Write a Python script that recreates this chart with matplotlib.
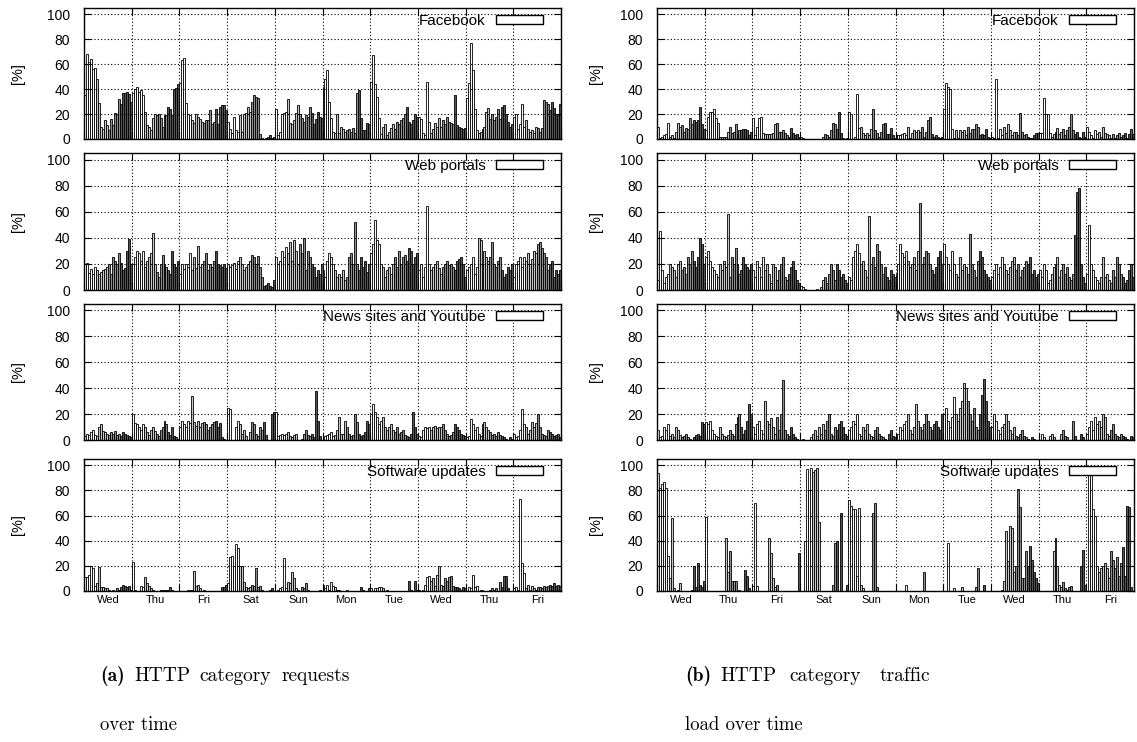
import matplotlib
matplotlib.use("Agg")
import matplotlib.pyplot as plt
from matplotlib.patches import Patch
import numpy as np

# hourly shares [%], 10 days x 24 hours, starting Wednesday 00:00
DAYS = ["Wed", "Thu", "Fri", "Sat", "Sun", "Mon", "Tue", "Wed", "Thu", "Fri"]
CATEGORIES = ["Facebook", "Web portals", "News sites and Youtube", "Software updates"]

fb_requests = [
    35, 68, 62, 64, 56, 57, 48, 29, 10, 8, 15, 11, 7, 16, 11, 21, 20, 32, 28, 37, 37, 38, 36, 30,
    37, 40, 42, 38, 39, 35, 22, 11, 10, 7, 17, 20, 19, 20, 17, 10, 19, 19, 26, 24, 19, 40, 41, 44,
    45, 63, 65, 29, 20, 19, 15, 13, 20, 18, 16, 14, 13, 15, 15, 23, 12, 14, 24, 12, 26, 27, 27, 23,
    14, 8, 5, 18, 7, 6, 19, 6, 20, 21, 26, 22, 30, 35, 34, 33, 4, 1, 0, 1, 2, 3, 1, 2,
    24, 3, 6, 20, 21, 22, 32, 13, 12, 15, 21, 27, 20, 17, 14, 19, 18, 26, 21, 12, 16, 22, 18, 17,
    42, 48, 55, 30, 17, 6, 5, 20, 5, 10, 8, 6, 7, 8, 6, 9, 5, 37, 39, 17, 7, 7, 13, 12,
    46, 67, 44, 34, 17, 4, 10, 12, 3, 6, 9, 12, 8, 14, 12, 15, 17, 20, 26, 14, 12, 15, 20, 18,
    18, 16, 5, 3, 46, 14, 5, 8, 13, 10, 17, 10, 15, 12, 18, 14, 13, 12, 35, 11, 10, 9, 8, 9,
    33, 45, 77, 55, 24, 7, 5, 6, 8, 10, 22, 25, 16, 20, 15, 18, 24, 16, 26, 27, 20, 14, 10, 12,
    18, 20, 8, 12, 28, 10, 15, 8, 6, 7, 5, 10, 9, 6, 9, 31, 30, 28, 23, 30, 25, 20, 19, 28,
]
web_requests = [
    20, 21, 13, 16, 12, 18, 15, 12, 14, 15, 16, 18, 20, 12, 25, 22, 20, 28, 21, 15, 17, 30, 39, 20,
    20, 25, 30, 28, 22, 30, 18, 22, 25, 28, 44, 20, 14, 10, 20, 27, 20, 18, 15, 12, 30, 20, 18, 22,
    12, 20, 16, 20, 18, 28, 15, 25, 17, 34, 18, 20, 22, 28, 15, 20, 18, 22, 30, 20, 19, 18, 20, 17,
    20, 18, 19, 21, 16, 22, 25, 20, 15, 18, 20, 22, 27, 25, 20, 26, 18, 10, 3, 4, 5, 3, 2, 8,
    25, 20, 22, 30, 25, 33, 28, 37, 22, 38, 30, 20, 35, 28, 40, 15, 30, 25, 20, 18, 10, 15, 12, 20,
    15, 10, 22, 28, 25, 20, 15, 10, 12, 10, 15, 8, 10, 25, 28, 20, 52, 20, 15, 25, 18, 22, 14, 20,
    28, 35, 54, 38, 35, 20, 18, 10, 15, 18, 12, 20, 25, 18, 30, 20, 25, 27, 22, 32, 30, 20, 25, 28,
    15, 20, 10, 18, 64, 20, 15, 18, 20, 22, 17, 12, 18, 20, 22, 19, 20, 18, 15, 22, 24, 25, 20, 10,
    15, 18, 20, 25, 12, 18, 40, 38, 20, 30, 25, 22, 25, 37, 20, 18, 22, 25, 15, 10, 12, 18, 15, 20,
    10, 20, 22, 25, 18, 25, 22, 28, 20, 24, 30, 28, 35, 37, 32, 28, 25, 15, 20, 22, 10, 15, 12, 15,
]
news_requests = [
    3, 5, 4, 6, 8, 4, 3, 10, 12, 7, 6, 5, 4, 6, 5, 7, 4, 5, 3, 6, 5, 4, 3, 2,
    20, 13, 12, 10, 8, 12, 10, 6, 4, 8, 10, 7, 5, 3, 8, 10, 15, 12, 6, 4, 10, 3, 2, 1,
    10, 15, 12, 10, 15, 13, 34, 14, 11, 15, 10, 13, 14, 12, 8, 10, 12, 14, 15, 10, 13, 2, 1, 0,
    25, 24, 0, 0, 10, 15, 12, 5, 8, 3, 0, 6, 14, 12, 5, 3, 10, 8, 14, 4, 0, 0, 20, 22,
    22, 3, 4, 5, 4, 5, 6, 3, 2, 4, 5, 0, 0, 1, 5, 8, 4, 3, 5, 2, 38, 15, 3, 0,
    0, 3, 4, 5, 6, 3, 4, 8, 18, 5, 5, 15, 10, 5, 3, 4, 20, 14, 5, 3, 4, 6, 15, 12,
    20, 28, 22, 18, 12, 15, 18, 10, 8, 10, 12, 8, 6, 10, 5, 6, 8, 4, 3, 2, 5, 22, 10, 5,
    3, 2, 8, 10, 9, 10, 8, 10, 11, 9, 10, 10, 12, 8, 5, 3, 4, 6, 12, 10, 8, 5, 4, 3,
    2, 3, 16, 12, 8, 10, 5, 3, 12, 14, 10, 8, 6, 4, 5, 3, 6, 4, 3, 2, 1, 0, 2, 1,
    5, 2, 3, 8, 24, 12, 10, 5, 8, 14, 10, 13, 20, 10, 5, 4, 3, 8, 6, 5, 3, 4, 5, 2,
]
sw_requests = [
    11, 11, 13, 20, 18, 4, 6, 19, 3, 3, 2, 2, 1, 0, 1, 0, 2, 1, 3, 5, 4, 3, 4, 1,
    23, 1, 0, 0, 4, 3, 11, 6, 4, 2, 1, 0, 0, 0, 1, 1, 1, 1, 1, 3, 1, 0, 0, 0,
    0, 0, 0, 0, 1, 1, 1, 16, 4, 5, 2, 0, 1, 0, 0, 0, 0, 0, 0, 0, 0, 3, 3, 5,
    6, 27, 28, 20, 37, 34, 20, 20, 7, 3, 2, 3, 5, 4, 18, 3, 4, 1, 0, 0, 0, 1, 2, 0,
    0, 1, 2, 3, 26, 2, 7, 6, 15, 10, 2, 1, 0, 3, 2, 6, 1, 0, 0, 0, 0, 0, 1, 0,
    5, 2, 5, 1, 7, 4, 3, 1, 1, 0, 0, 0, 1, 0, 0, 0, 0, 0, 0, 3, 1, 0, 0, 2,
    2, 0, 2, 2, 3, 3, 2, 0, 1, 0, 0, 0, 0, 0, 0, 0, 0, 0, 0, 8, 1, 0, 8, 1,
    1, 0, 1, 5, 11, 12, 8, 10, 4, 13, 20, 5, 4, 10, 8, 11, 12, 4, 3, 3, 2, 1, 3, 2,
    0, 3, 2, 13, 3, 4, 0, 1, 1, 0, 0, 0, 1, 2, 1, 2, 0, 7, 3, 12, 12, 2, 0, 0,
    2, 3, 1, 73, 22, 14, 2, 5, 1, 4, 2, 1, 3, 3, 2, 4, 3, 4, 5, 4, 6, 4, 5, 4,
]

fb_traffic = [
    10, 1, 2, 3, 4, 13, 2, 3, 1, 6, 13, 10, 11, 6, 9, 8, 17, 12, 15, 14, 15, 26, 12, 8,
    7, 18, 22, 22, 24, 17, 13, 2, 2, 2, 2, 6, 10, 5, 6, 12, 4, 7, 7, 8, 8, 7, 3, 6,
    17, 3, 10, 17, 18, 5, 4, 4, 4, 4, 5, 12, 13, 6, 6, 7, 5, 3, 2, 9, 5, 3, 4, 2,
    2, 1, 0, 0, 0, 0, 0, 0, 0, 0, 0, 2, 4, 3, 2, 7, 13, 12, 8, 22, 5, 1, 0, 1,
    22, 20, 0, 2, 36, 9, 10, 5, 3, 5, 3, 8, 24, 7, 5, 2, 6, 12, 13, 4, 4, 9, 3, 1,
    3, 3, 3, 4, 5, 3, 10, 1, 5, 7, 6, 7, 6, 10, 2, 6, 15, 18, 4, 2, 3, 2, 1, 2,
    24, 45, 42, 40, 8, 1, 7, 1, 7, 6, 7, 3, 10, 5, 8, 8, 12, 10, 3, 4, 3, 8, 2, 1,
    2, 1, 48, 1, 8, 3, 10, 5, 12, 7, 3, 6, 6, 3, 21, 6, 3, 4, 2, 1, 1, 3, 5, 5,
    5, 5, 33, 20, 20, 5, 2, 4, 6, 9, 4, 6, 8, 3, 7, 10, 20, 7, 4, 6, 2, 1, 6, 2,
    10, 6, 3, 1, 7, 4, 6, 2, 10, 5, 4, 3, 1, 4, 1, 3, 5, 2, 3, 5, 1, 4, 8, 4,
]
web_traffic = [
    8, 45, 15, 5, 10, 12, 20, 18, 15, 10, 20, 22, 15, 18, 12, 25, 20, 30, 22, 18, 25, 40, 35, 20,
    25, 30, 22, 18, 15, 12, 10, 20, 15, 22, 18, 58, 10, 25, 20, 32, 20, 12, 15, 25, 20, 18, 15, 20,
    15, 10, 22, 18, 10, 25, 15, 20, 12, 5, 20, 18, 8, 15, 20, 25, 10, 8, 12, 18, 22, 15, 8, 5,
    3, 2, 1, 0, 0, 0, 0, 0, 1, 0, 2, 8, 10, 5, 12, 20, 15, 8, 20, 15, 10, 12, 8, 5,
    10, 8, 25, 30, 35, 28, 20, 22, 15, 10, 57, 20, 25, 18, 35, 30, 20, 12, 18, 10, 8, 15, 12, 10,
    12, 20, 35, 28, 25, 30, 22, 18, 20, 25, 15, 30, 67, 20, 25, 30, 28, 20, 15, 12, 18, 25, 30, 20,
    35, 25, 20, 15, 30, 20, 12, 10, 25, 15, 20, 18, 12, 43, 20, 15, 10, 22, 30, 25, 15, 12, 10, 8,
    10, 15, 20, 12, 18, 25, 20, 15, 12, 18, 22, 25, 15, 20, 10, 15, 18, 22, 20, 25, 12, 15, 10, 12,
    15, 10, 20, 15, 5, 8, 12, 18, 20, 25, 10, 15, 20, 12, 18, 10, 8, 12, 42, 75, 78, 20, 10, 5,
    12, 50, 20, 15, 10, 8, 5, 10, 25, 10, 12, 8, 5, 15, 10, 25, 20, 12, 10, 5, 8, 15, 20, 10,
]
news_traffic = [
    8, 2, 3, 10, 8, 12, 3, 5, 2, 10, 8, 4, 2, 3, 5, 2, 1, 0, 2, 4, 5, 3, 14, 12,
    14, 12, 15, 8, 5, 3, 2, 10, 5, 3, 2, 4, 8, 5, 3, 12, 18, 20, 10, 5, 8, 15, 28, 20,
    10, 5, 12, 15, 8, 5, 30, 15, 12, 17, 10, 5, 18, 8, 20, 46, 8, 5, 3, 10, 5, 2, 1, 0,
    0, 1, 0, 0, 0, 2, 5, 8, 3, 10, 5, 12, 8, 15, 20, 5, 3, 10, 8, 12, 15, 10, 5, 3,
    8, 10, 15, 12, 20, 5, 3, 10, 8, 12, 5, 3, 2, 8, 10, 5, 3, 2, 1, 0, 5, 8, 3, 2,
    3, 5, 10, 8, 12, 15, 20, 8, 5, 10, 28, 15, 10, 8, 12, 20, 15, 10, 8, 12, 15, 10, 8, 20,
    20, 25, 15, 10, 18, 33, 20, 15, 25, 30, 44, 40, 30, 20, 15, 25, 10, 8, 20, 35, 47, 30, 15, 10,
    10, 20, 15, 8, 5, 10, 12, 20, 15, 8, 5, 10, 3, 2, 5, 8, 3, 2, 1, 0, 2, 1, 0, 0,
    0, 5, 2, 0, 0, 3, 5, 2, 0, 0, 0, 5, 8, 3, 2, 0, 0, 15, 3, 0, 0, 5, 2, 0,
    5, 10, 15, 8, 18, 12, 15, 10, 20, 18, 5, 3, 8, 12, 5, 3, 2, 5, 3, 2, 1, 0, 3, 2,
]
sw_traffic = [
    94, 82, 85, 87, 82, 28, 10, 58, 2, 0, 1, 6, 0, 0, 0, 0, 0, 1, 20, 3, 22, 5, 3, 8,
    59, 0, 0, 0, 0, 0, 0, 0, 0, 0, 42, 15, 32, 8, 8, 8, 0, 1, 0, 0, 17, 12, 2, 0,
    4, 70, 4, 0, 0, 0, 0, 0, 42, 30, 10, 3, 5, 0, 0, 0, 0, 0, 0, 0, 0, 0, 0, 30,
    0, 0, 40, 97, 80, 98, 95, 96, 98, 55, 0, 0, 0, 0, 0, 0, 5, 38, 40, 0, 62, 0, 0, 5,
    72, 68, 65, 65, 12, 66, 5, 2, 0, 0, 0, 0, 62, 70, 3, 0, 0, 0, 0, 0, 0, 0, 0, 0,
    0, 0, 0, 0, 0, 5, 0, 0, 0, 0, 0, 0, 0, 0, 15, 0, 0, 0, 0, 0, 0, 0, 0, 0,
    0, 0, 38, 0, 0, 2, 0, 0, 0, 3, 0, 0, 0, 0, 0, 0, 3, 18, 0, 0, 5, 0, 0, 0,
    0, 0, 0, 0, 0, 1, 8, 48, 24, 52, 50, 15, 20, 81, 67, 10, 10, 32, 20, 36, 25, 15, 10, 6,
    0, 0, 0, 0, 0, 0, 0, 32, 42, 20, 5, 3, 7, 2, 1, 3, 4, 0, 0, 0, 0, 20, 33, 5,
    0, 93, 98, 65, 60, 20, 15, 18, 20, 22, 18, 10, 32, 25, 18, 27, 12, 22, 35, 12, 68, 67, 3, 0,
]

SHADES = ["white", "#c6c6c6", "#8c8c8c", "#555555"]
SANS = "Liberation Sans"


def _panel(ax, values, label, show_days):
    hours = np.arange(len(values))
    colors = [SHADES[(h % 24) // 6] for h in hours]
    ax.bar(hours + 0.5, values, width=1.0, color=colors,
           edgecolor="black", linewidth=0.6, zorder=1)
    ax.set_xlim(0, 24 * len(DAYS))
    ax.set_ylim(0, 105)
    ax.set_axisbelow(False)

    ax.set_yticks(range(0, 101, 20))
    ax.set_xticks(range(0, 24 * len(DAYS) + 1, 24))
    ax.set_xticklabels([])
    ax.set_xticks(np.arange(len(DAYS)) * 24 + 12, minor=True)
    ax.set_xticklabels(DAYS if show_days else [""] * len(DAYS), minor=True)
    ax.tick_params(which="major", direction="in", top=True, right=True,
                   length=5, width=0.8, labelsize=10, pad=10)
    ax.tick_params(which="minor", length=0, labelsize=8, pad=3)
    for t in ax.get_yticklabels() + ax.get_xticklabels(minor=True):
        t.set_fontfamily(SANS)

    ax.grid(True, which="major", color="black", linestyle=(0, (1, 2)),
            linewidth=0.8)
    for s in ax.spines.values():
        s.set_linewidth(1.0)

    ax.set_ylabel("[%]", fontsize=10.5, family=SANS)
    handle = Patch(facecolor="white", edgecolor="black", linewidth=1.0)
    ax.legend([handle], [label], loc="upper right", frameon=False,
              bbox_to_anchor=(0.963, 0.955), borderaxespad=0, borderpad=0,
              handlelength=3.1, handleheight=0.5, handletextpad=0.7,
              markerfirst=False, prop={"family": SANS, "size": 11})


fig = plt.figure(figsize=(11.37, 7.42), dpi=100)

columns = [
    (84, [fb_requests, web_requests, news_requests, sw_requests], -0.124),
    (657, [fb_traffic, web_traffic, news_traffic, sw_traffic], -0.113),
]
rows = [(8, 139), (153, 290), (304, 440), (459, 591)]
W, H = 1137.0, 742.0

for left, series, lab_x in columns:
    for i, ((top, bottom), values) in enumerate(zip(rows, series)):
        ax = fig.add_axes([left / W, 1 - bottom / H, 477 / W, (bottom - top) / H])
        _panel(ax, values, CATEGORIES[i], show_days=(i == len(rows) - 1))
        ax.yaxis.set_label_coords(lab_x, 0.5)

# sub-figure captions (justified first line, words placed one by one)
cap = {"fontsize": 14, "va": "baseline"}
line1 = 1 - 681 / H
line2 = 1 - 730 / H
fig.text(100 / W, line1, "(a)", family="cmb10", **cap)
for x, word in [(134, "HTTP"), (199, "category"), (282, "requests")]:
    fig.text(x / W, line1, word, family="cmr10", **cap)
fig.text(100 / W, line2, "over time", family="cmr10", fontsize=13.5, va="baseline")
fig.text(685 / W, line1, "(b)", family="cmb10", **cap)
for x, word in [(720, "HTTP"), (789, "category"), (880, "traffic")]:
    fig.text(x / W, line1, word, family="cmr10", **cap)
fig.text(685 / W, line2, "load over time", family="cmr10", fontsize=13.5, va="baseline")

fig.savefig("out.png", dpi=100)
